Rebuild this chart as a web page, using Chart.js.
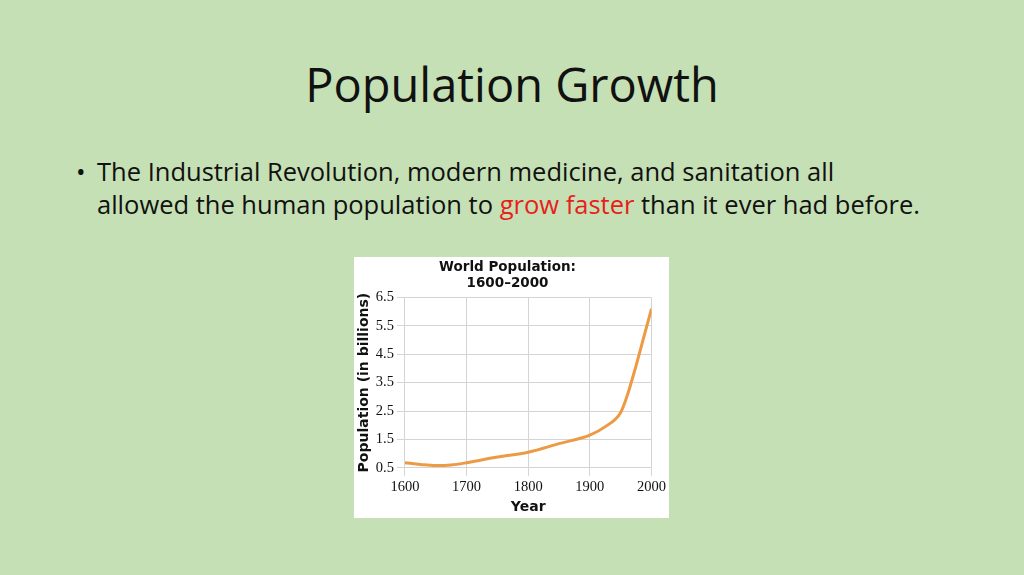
<!DOCTYPE html>
<html>
<head>
<meta charset="utf-8">
<script src="https://cdn.jsdelivr.net/npm/chart.js@4"></script>
<style>
  body { margin: 0; width: 1024px; height: 575px; background: #c5e0b4; font-family: "Open Sans", sans-serif; position: relative; overflow: hidden; }
  h1 { position: absolute; top: 52px; left: 0; width: 1024px; margin: 0; text-align: center; font-weight: normal; font-size: 47px; color: #111; }
  .bullet { position: absolute; left: 76px; top: 155px; font-size: 25.5px; line-height: 33px; color: #111; width: 940px; }
  .bullet span.dot { position: absolute; left: 0; }
  .bullet div { margin-left: 21px; }
  .red { color: #e8201c; }
  #box { position: absolute; left: 354px; top: 257px; width: 315px; height: 261px; background: #fff; }
</style>
</head>
<body>
<h1>Population Growth</h1>
<div class="bullet"><span class="dot">•</span><div>The Industrial Revolution, modern medicine, and sanitation all<br>allowed the human population to <span class="red">grow faster</span> than it ever had before.</div></div>
<div id="box"><canvas id="chart"></canvas></div>
<script>
// world population, billions
const years = [1600, 1625, 1650, 1675, 1700, 1750, 1800, 1850, 1900, 1925, 1950, 1960, 1975, 1990, 2000];
const population = [0.68, 0.62, 0.58, 0.6, 0.68, 0.88, 1.05, 1.35, 1.65, 1.95, 2.45, 3.0, 4.1, 5.3, 6.1];

const ctx = document.getElementById('chart');
new Chart(ctx, {
  type: 'line',
  data: {
    datasets: [{
      data: years.map((y, i) => ({ x: y, y: population[i] })),
      borderColor: '#ed9a45',
      borderWidth: 3,
      pointRadius: 0,
      tension: 0.4,
      cubicInterpolationMode: 'monotone'
    }]
  },
  options: {
    responsive: true,
    maintainAspectRatio: false,
    animation: false,
    layout: { padding: { right: 10, left: 2, bottom: 2 } },
    plugins: {
      legend: { display: false },
      title: {
        display: true,
        text: ['World Population:', '1600\u20132000'],
        color: '#111',
        font: { family: 'DejaVu Sans', weight: 'bold', size: 13.5 },
        padding: { top: 2, bottom: 6 },
        lineHeight: 1.2
      }
    },
    scales: {
      x: {
        type: 'linear', min: 1600, max: 2000,
        ticks: { stepSize: 50, maxRotation: 0, color: '#111', font: { family: 'Liberation Serif', size: 14.5 },
          callback: v => v % 100 === 0 ? v : '' },
        grid: { color: '#d4d4d4' },
        border: { color: '#d4d4d4' },
        title: { display: true, text: 'Year', color: '#111', font: { family: 'DejaVu Sans', weight: 'bold', size: 14 }, padding: 0 }
      },
      y: {
        min: 0.5, max: 6.5,
        ticks: { stepSize: 0.5, color: '#111', font: { family: 'Liberation Serif', size: 14.5 },
          callback: v => (Math.round(v * 2) % 2 === 1) ? v.toFixed(1) : '' },
        grid: { color: '#d4d4d4' },
        border: { color: '#d4d4d4' },
        title: { display: true, text: 'Population (in billions)', color: '#111', font: { family: 'DejaVu Sans', weight: 'bold', size: 14 }, padding: 0 }
      }
    }
  }
});
</script>
</body>
</html>
